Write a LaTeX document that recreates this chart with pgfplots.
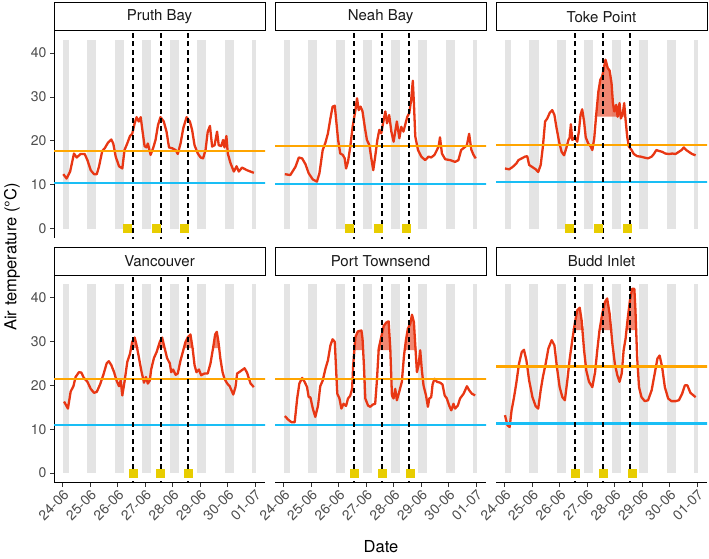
\documentclass[border=0pt]{standalone}
\usepackage{pgfplots}
\pgfplotsset{compat=1.18}
\usepackage{pgfplotstable}
\usepackage{fontspec}
\setmainfont{TeX Gyre Heros}

\definecolor{tred}{RGB}{232,55,20}
\definecolor{torange}{RGB}{255,165,0}
\definecolor{tblue}{RGB}{25,190,245}
\definecolor{tgold}{RGB}{232,205,0}
\definecolor{night}{RGB}{228,228,228}
\definecolor{axtext}{RGB}{77,77,77}

\pgfplotstableread{
d t
0.02 12.4
0.14 11.4
0.27 13.0
0.41 17.1
0.51 16.2
0.65 17.0
0.80 17.0
0.90 15.6
1.02 13.3
1.14 12.4
1.24 12.4
1.32 14.1
1.44 17.7
1.53 18.3
1.65 19.6
1.77 20.3
1.84 19.4
1.93 16.4
2.05 14.2
2.17 13.7
2.25 17.9
2.35 19.4
2.45 21.1
2.53 21.6
2.62 24.0
2.69 25.4
2.77 24.4
2.84 25.4
2.90 22.5
2.98 18.8
3.05 18.5
3.10 19.4
3.20 16.8
3.30 18.5
3.38 20.2
3.47 23.6
3.56 25.4
3.68 24.4
3.78 22.1
3.87 18.5
3.99 18.3
4.11 17.9
4.19 17.0
4.29 19.4
4.39 22.9
4.51 25.4
4.63 24.4
4.71 22.5
4.80 19.0
4.92 17.1
5.02 16.2
5.11 16.0
5.20 17.9
5.28 22.1
5.36 23.4
5.44 18.7
5.53 19.0
5.62 22.1
5.68 19.0
5.77 18.8
5.84 20.2
5.89 18.5
5.96 21.1
6.01 17.1
6.11 14.9
6.23 13.0
6.33 14.2
6.41 13.0
6.53 13.9
6.71 13.3
6.96 12.7
}\pruth

\pgfplotstableread{
d t
0.04 12.4
0.24 12.2
0.43 14.1
0.55 16.2
0.67 16.0
0.79 14.7
0.91 12.6
1.06 11.2
1.21 10.7
1.30 12.6
1.42 17.9
1.52 19.6
1.61 21.7
1.70 25.1
1.78 27.8
1.86 28.0
1.90 25.4
1.98 20.2
2.06 17.1
2.15 16.8
2.22 16.0
2.27 13.7
2.34 15.2
2.42 18.5
2.51 23.2
2.61 27.0
2.67 29.7
2.73 27.0
2.80 27.8
2.87 26.7
2.95 23.2
3.03 20.2
3.12 19.0
3.19 16.0
3.26 13.3
3.33 16.4
3.41 20.2
3.48 22.5
3.55 21.7
3.64 24.8
3.70 26.7
3.76 24.0
3.84 25.9
3.92 22.1
4.00 19.8
4.06 22.1
4.12 24.4
4.21 20.6
4.28 23.2
4.36 22.1
4.42 23.6
4.50 25.5
4.57 26.3
4.64 29.3
4.70 33.7
4.74 28.6
4.79 21.0
4.89 17.9
5.01 16.4
5.15 15.6
5.27 16.4
5.37 16.2
5.49 16.8
5.64 18.7
5.69 20.8
5.76 17.1
5.88 15.8
6.06 15.6
6.24 15.2
6.36 15.6
6.46 17.9
6.58 18.5
6.67 19.0
6.75 21.6
6.83 18.0
6.91 16.8
6.99 16.0
}\neah

\pgfplotstableread{
d t
0.01 13.7
0.16 13.5
0.28 14.0
0.42 14.8
0.50 15.6
0.62 16.0
0.74 16.4
0.82 16.5
0.89 14.5
1.01 14.0
1.13 13.5
1.22 12.9
1.31 14.5
1.39 18.7
1.47 24.4
1.55 25.1
1.64 26.4
1.73 27.0
1.81 25.9
1.88 23.2
1.98 19.8
2.07 17.5
2.16 16.7
2.24 18.3
2.32 20.2
2.36 20.6
2.41 23.8
2.46 20.2
2.56 20.8
2.64 19.8
2.70 22.1
2.76 25.9
2.82 27.2
2.89 24.4
2.95 20.8
3.04 19.4
3.13 18.7
3.19 17.9
3.26 20.6
3.33 25.9
3.41 31.2
3.48 33.9
3.55 34.7
3.61 36.6
3.67 38.5
3.75 36.6
3.82 36.0
3.89 33.1
3.94 28.6
3.99 26.7
4.06 28.2
4.11 25.5
4.18 28.6
4.23 25.1
4.30 26.3
4.35 28.6
4.40 24.8
4.46 20.9
4.52 18.7
4.62 17.9
4.70 17.0
4.82 16.5
4.95 16.4
5.07 16.2
5.22 16.0
5.35 16.4
5.43 17.0
5.52 17.9
5.61 17.7
5.73 17.5
5.85 17.1
5.98 17.0
6.10 17.1
6.22 17.0
6.34 17.5
6.44 17.9
6.52 18.5
6.61 17.9
6.70 17.5
6.82 17.0
6.95 16.7
}\toke

\pgfplotstableread{
d t
0.05 16.3
0.19 14.7
0.29 18.6
0.39 19.8
0.47 21.9
0.59 23.0
0.68 22.9
0.77 21.7
0.90 20.8
1.02 19.2
1.14 18.3
1.24 18.5
1.36 20.2
1.48 22.4
1.60 25.0
1.68 25.5
1.77 24.6
1.87 23.0
1.96 21.1
2.05 19.8
2.11 21.1
2.17 17.7
2.25 20.8
2.35 25.3
2.45 27.2
2.53 29.9
2.62 30.9
2.69 29.1
2.77 26.5
2.86 23.4
2.96 20.6
3.03 21.9
3.10 20.4
3.17 21.1
3.22 23.6
3.32 26.2
3.42 27.6
3.54 30.0
3.62 30.9
3.71 28.5
3.80 26.2
3.90 25.0
3.95 23.0
4.02 23.6
4.11 22.4
4.19 22.7
4.29 25.7
4.39 28.0
4.47 29.9
4.56 31.0
4.65 31.6
4.73 28.4
4.80 24.6
4.87 23.0
4.96 23.6
5.04 22.3
5.16 22.7
5.28 22.7
5.38 25.0
5.48 28.7
5.55 31.6
5.61 32.2
5.67 29.9
5.74 26.1
5.82 23.0
5.89 21.5
5.99 20.4
6.08 19.8
6.21 17.9
6.29 19.6
6.35 22.7
6.47 23.2
6.62 23.9
6.71 22.9
6.84 20.4
6.96 19.6
}\vanc

\pgfplotstableread{
d t
0.04 13.0
0.16 12.2
0.28 11.6
0.40 11.6
0.49 17.0
0.57 20.4
0.67 21.7
0.76 20.8
0.85 19.6
0.91 17.3
0.97 17.3
1.06 14.7
1.15 12.8
1.25 15.4
1.33 19.8
1.42 21.1
1.52 23.8
1.61 25.7
1.70 29.1
1.78 30.5
1.86 29.9
1.90 24.6
1.95 18.1
2.03 17.0
2.10 14.7
2.18 15.8
2.27 15.3
2.34 17.0
2.42 17.6
2.49 19.2
2.53 24.6
2.61 31.0
2.70 32.3
2.83 32.5
2.87 30.6
2.92 24.6
2.97 17.0
3.07 15.4
3.15 15.1
3.24 15.6
3.33 15.8
3.39 20.8
3.46 28.4
3.55 31.0
3.64 33.5
3.73 34.3
3.82 34.6
3.88 28.4
3.94 17.7
4.00 17.0
4.06 19.2
4.12 16.6
4.21 18.6
4.30 20.8
4.38 26.8
4.45 30.3
4.52 32.9
4.61 34.1
4.67 36.1
4.74 34.4
4.79 29.1
4.85 23.0
4.91 24.6
4.97 28.0
5.03 23.4
5.09 20.0
5.18 17.7
5.25 15.1
5.30 17.0
5.37 17.3
5.42 20.2
5.49 21.5
5.58 20.8
5.70 20.6
5.78 20.2
5.86 17.7
5.94 17.0
6.03 15.3
6.10 14.3
6.18 15.8
6.24 14.7
6.34 15.4
6.42 17.0
6.55 18.1
6.67 19.8
6.75 18.9
6.85 18.1
6.97 17.7
}\portt

\pgfplotstableread{
d t
0.01 13.2
0.10 10.9
0.18 10.5
0.25 14.3
0.34 17.3
0.42 20.4
0.52 24.9
0.62 27.6
0.70 28.1
0.79 25.7
0.89 21.1
1.01 17.3
1.13 15.2
1.22 14.7
1.31 18.9
1.39 21.9
1.49 24.9
1.59 28.4
1.71 30.3
1.81 29.1
1.90 24.2
2.00 19.6
2.10 17.3
2.19 16.6
2.28 21.1
2.36 25.7
2.46 30.3
2.56 34.4
2.64 37.1
2.73 37.7
2.80 34.8
2.89 28.0
2.97 23.4
3.07 20.8
3.19 19.6
3.29 23.0
3.37 28.0
3.45 32.5
3.55 36.3
3.65 39.0
3.73 39.8
3.82 36.3
3.92 29.5
4.01 24.9
4.10 22.3
4.18 20.8
4.26 22.7
4.33 28.0
4.40 30.6
4.47 34.8
4.56 39.4
4.64 42.0
4.72 42.0
4.76 37.1
4.82 26.5
4.89 19.6
4.98 17.3
5.10 16.4
5.22 16.6
5.35 18.9
5.47 23.0
5.56 26.1
5.64 26.8
5.73 24.2
5.83 19.6
5.95 17.0
6.07 16.4
6.22 16.4
6.34 16.6
6.46 18.1
6.56 20.0
6.65 20.0
6.76 18.3
6.95 17.3
}\budd

\pgfplotsset{
  panel/.style={
    scale only axis, width=211pt, height=207.5pt,
    xmin=-0.317, xmax=7.365, ymin=-2.15, ymax=45.15,
    axis lines*=left,
    axis line style={line width=0.9pt, black},
    tick align=outside, major tick length=4pt,
    tick style={line width=0.9pt, color=black!80},
    xtick={0,...,7}, ytick={0,10,20,30,40},
    xticklabels={24-06,25-06,26-06,27-06,28-06,29-06,30-06,01-07},
    tick label style={font=\fontsize{14}{16}\selectfont, color=axtext},
    xticklabel style={rotate=45, anchor=north east, inner sep=1.5pt},
    /pgf/number format/assume math mode=true,
  },
  notx/.style={x axis line style={draw=none}, xtick style={draw=none}, xticklabels={}},
  noty/.style={y axis line style={draw=none}, ytick style={draw=none}, yticklabels={}},
}

\newcommand{\nights}{%
  \addplot[fill=night, draw=none] coordinates {(0.02,0) (0.23,0) (0.23,43) (0.02,43)};
  \addplot[fill=night, draw=none] coordinates {(0.90,0) (1.23,0) (1.23,43) (0.90,43)};
  \addplot[fill=night, draw=none] coordinates {(1.90,0) (2.23,0) (2.23,43) (1.90,43)};
  \addplot[fill=night, draw=none] coordinates {(2.90,0) (3.23,0) (3.23,43) (2.90,43)};
  \addplot[fill=night, draw=none] coordinates {(3.90,0) (4.23,0) (4.23,43) (3.90,43)};
  \addplot[fill=night, draw=none] coordinates {(4.90,0) (5.23,0) (5.23,43) (4.90,43)};
  \addplot[fill=night, draw=none] coordinates {(5.90,0) (6.23,0) (6.23,43) (5.90,43)};
  \addplot[fill=night, draw=none] coordinates {(6.90,0) (7.03,0) (7.03,43) (6.90,43)};
}
% #1 data, #2 orange, #3 blue, #4 #5 #6 squares
\newcommand{\panelbody}[6]{%
  \addplot[tred, line width=2.3pt, line join=round] table[x=d,y=t] {#1};
  \addplot[torange, line width=2.2pt] coordinates {(-0.5,#2) (7.5,#2)};
  \addplot[tblue, line width=2.2pt] coordinates {(-0.5,#3) (7.5,#3)};
  \addplot[black, line width=1.8pt, dash pattern=on 5pt off 3.5pt] coordinates {(2.56,-3) (2.56,46)};
  \addplot[black, line width=1.8pt, dash pattern=on 5pt off 3.5pt] coordinates {(3.58,-3) (3.58,46)};
  \addplot[black, line width=1.8pt, dash pattern=on 5pt off 3.5pt] coordinates {(4.56,-3) (4.56,46)};
  \addplot[only marks, mark=square*, mark size=4pt, color=tgold] coordinates {(#4,0) (#5,0) (#6,0)};
}
% #1 data, #2 threshold, #3 from, #4 to
\newcommand{\heat}[4]{%
  \addplot[fill=tred, fill opacity=0.6, draw=none, restrict x to domain=#3:#4]
    table[x=d, y expr={max(\thisrow{t},#2)}] {#1} -- (#4,#2) -- (#3,#2) -- cycle;
}

\begin{document}
\begin{tikzpicture}
\useasboundingbox (0,0) rectangle (709pt,558pt);

% Row 1
\begin{axis}[panel, notx, at={(54pt,320pt)}, anchor=south west]
  \nights
  \panelbody{\pruth}{17.7}{10.4}{2.35}{3.39}{4.42}
\end{axis}
\begin{axis}[panel, notx, noty, at={(275pt,320pt)}, anchor=south west]
  \nights
  \panelbody{\neah}{18.9}{10.1}{2.40}{3.43}{4.46}
\end{axis}
\begin{axis}[panel, notx, noty, at={(496pt,320pt)}, anchor=south west]
  \nights
  \heat{\toke}{25.5}{3.25}{4.47}
  \panelbody{\toke}{19.1}{10.6}{2.36}{3.42}{4.45}
\end{axis}

% Row 2
\begin{axis}[panel, at={(54pt,75.5pt)}, anchor=south west]
  \nights
  \heat{\vanc}{28.5}{2.44}{2.78}
  \heat{\vanc}{28.5}{3.41}{3.81}
  \heat{\vanc}{28.5}{4.38}{4.81}
  \heat{\vanc}{28.5}{5.47}{5.75}
  \panelbody{\vanc}{21.45}{11.0}{2.55}{3.56}{4.57}
\end{axis}
\begin{axis}[panel, noty, at={(275pt,75.5pt)}, anchor=south west]
  \nights
  \heat{\portt}{28.0}{2.52}{2.93}
  \heat{\portt}{28.0}{3.38}{3.95}
  \heat{\portt}{28.0}{4.37}{4.86}
  \panelbody{\portt}{21.4}{11.0}{2.55}{3.58}{4.61}
\end{axis}
\begin{axis}[panel, noty, at={(496pt,75.5pt)}, anchor=south west]
  \nights
  \heat{\budd}{32.6}{2.45}{2.90}
  \heat{\budd}{32.6}{3.36}{3.93}
  \heat{\budd}{32.6}{4.39}{4.83}
  \panelbody{\budd}{24.3}{11.3}{2.56}{3.59}{4.63}
\end{axis}

% Strips
\tikzset{strip/.style={draw=black, line width=1pt, fill=white}, striptext/.style={font=\fontsize{15}{17}\selectfont, text=black!90}}
\draw[strip] (54pt,527.5pt) rectangle (265pt,555pt);
\node[striptext] at (159.5pt,541.2pt) {Pruth Bay};
\draw[strip] (275pt,527.5pt) rectangle (486pt,555pt);
\node[striptext] at (380.5pt,541.2pt) {Neah Bay};
\draw[strip] (496pt,527.5pt) rectangle (707pt,555pt);
\node[striptext] at (601.5pt,541.2pt) {Toke Point};
\draw[strip] (54pt,283pt) rectangle (265pt,310.5pt);
\node[striptext] at (159.5pt,296.7pt) {Vancouver};
\draw[strip] (275pt,283pt) rectangle (486pt,310.5pt);
\node[striptext] at (380.5pt,296.7pt) {Port Townsend};
\draw[strip] (496pt,283pt) rectangle (707pt,310.5pt);
\node[striptext] at (601.5pt,296.7pt) {Budd Inlet};

% Axis titles
\node[rotate=90, font=\fontsize{16.5}{19}\selectfont] at (12pt,301pt) {Air temperature (°C)};
\node[font=\fontsize{16.5}{19}\selectfont] at (381pt,11pt) {Date};
\end{tikzpicture}
\end{document}
